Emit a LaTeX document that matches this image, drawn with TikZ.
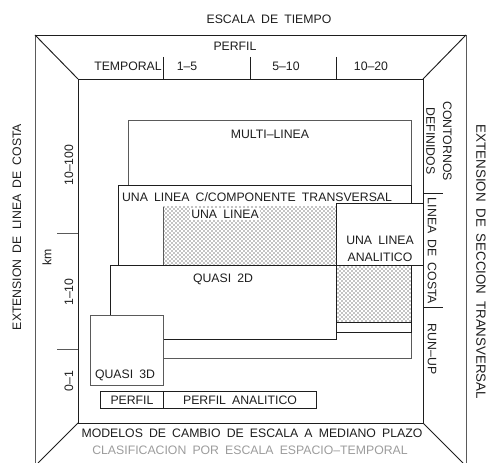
\documentclass[tikz,border=0pt]{standalone}
\usepackage{fontspec}
\setmainfont{Liberation Sans}[WordSpace=1.8]
\usetikzlibrary{patterns}
\definecolor{ink}{HTML}{1E1E1E}
\definecolor{pale}{HTML}{5A5A5A}
\definecolor{soft}{HTML}{9C9C9C}

\begin{document}
\begin{tikzpicture}[x=0.75pt, y=-0.75pt, line width=0.7pt,
    lbl/.style={font=\fontsize{9.2}{12.5}\selectfont, text=ink, inner sep=1pt},
    box/.style={draw=ink, fill=white},
    gbox/.style={draw=pale, fill=white}]
  \useasboundingbox (0,0) rectangle (493,463);
  % outer frame and bevel
  \draw[pale] (35,463) -- (35,35) -- (466,35) -- (466,463);
  \draw[ink] (35,35) -- (466,35);
  \draw[ink] (78,79) rectangle (423,423);
  \foreach \a/\b in {35/78, 466/423} \draw[ink] (\a,35) -- (\b,79);
  \draw[ink] (78,423) -- (38,463);
  \draw[ink] (423,423) -- (463,463);
  % scale ticks
  \foreach \x in {163,250,336} \draw[ink] (\x,57) -- (\x,79);
  \foreach \y in {233,349} \draw[pale] (57,\y) -- (78,\y);
  \foreach \y in {193,307} \draw[ink] (423,\y) -- (443,\y);
  % model boxes, back to front
  \draw[gbox] (128,120) rectangle (411,358);
  \draw[box] (118,185) rectangle (411,332);
  \fill[pattern=crosshatch dots, pattern color=black] (163,207) rectangle (411,322);
  \draw[pale] (163,207) -- (163,322);
  \draw[ink] (163,322) -- (411,322);
  \draw[box] (336,203) rectangle (423,265);
  \draw[box] (110,265) rectangle (336,339);
  \draw[gbox] (90,315) rectangle (163,385);
  \draw[ink] (100,391) rectangle (316,408);
  \draw[ink] (163,391) -- (163,408);
  % texts
  \node[lbl] (tiempo) at (269,19) {ESCALA DE TIEMPO};
  \node[lbl] (perfil) at (235,46) {PERFIL};
  \node[lbl] (temporal) at (128,66) {TEMPORAL};
  \foreach \n/\x/\t in {ta/187/1--5, tb/286/5--10, tc/371/10--20}
    \node[lbl] (\n) at (\x,66) {\t};
  \node[lbl, rotate=90] (extcosta) at (17,227) {EXTENSION DE LINEA DE COSTA};
  \node[lbl, rotate=90] (km) at (47,257) {km};
  \foreach \n/\y/\t in {la/165/10--100, lb/292/1--10, lc/381/0--1}
    \node[lbl, rotate=90] (\n) at (69,\y) {\t};
  \node[lbl, font=\fontsize{10}{12}\selectfont, rotate=-90] (extsec) at (481,262) {EXTENSION DE SECCION TRANSVERSAL};
  \node[lbl, rotate=-90, align=center] (contornos) at (439,141) {CONTORNOS\\DEFINIDOS};
  \node[lbl, rotate=-90] (lcosta) at (432,251) {LINEA DE COSTA};
  \node[lbl, rotate=-90] (runup) at (432,349) {RUN--UP};
  \node[lbl] (multi) at (270,134) {MULTI--LINEA};
  \node[lbl] (ccomp) at (257,197) {UNA LINEA C/COMPONENTE TRANSVERSAL};
  \node[lbl, fill=white] (unalinea) at (225,214) {UNA LINEA};
  \node[lbl, align=center] (analitico) at (380,249) {UNA LINEA\\ANALITICO};
  \node[lbl] (quasi2) at (223,279) {QUASI 2D};
  \node[lbl] (quasi3) at (125,375) {QUASI 3D};
  \node[lbl] (pf) at (132,400) {PERFIL};
  \node[lbl] (pfan) at (240,400) {PERFIL ANALITICO};
  \node[lbl] (modelos) at (252,433) {MODELOS DE CAMBIO DE ESCALA A MEDIANO PLAZO};
  \node[lbl, text=soft] (clasif) at (250,450) {CLASIFICACION POR ESCALA ESPACIO--TEMPORAL};
\end{tikzpicture}
\end{document}
